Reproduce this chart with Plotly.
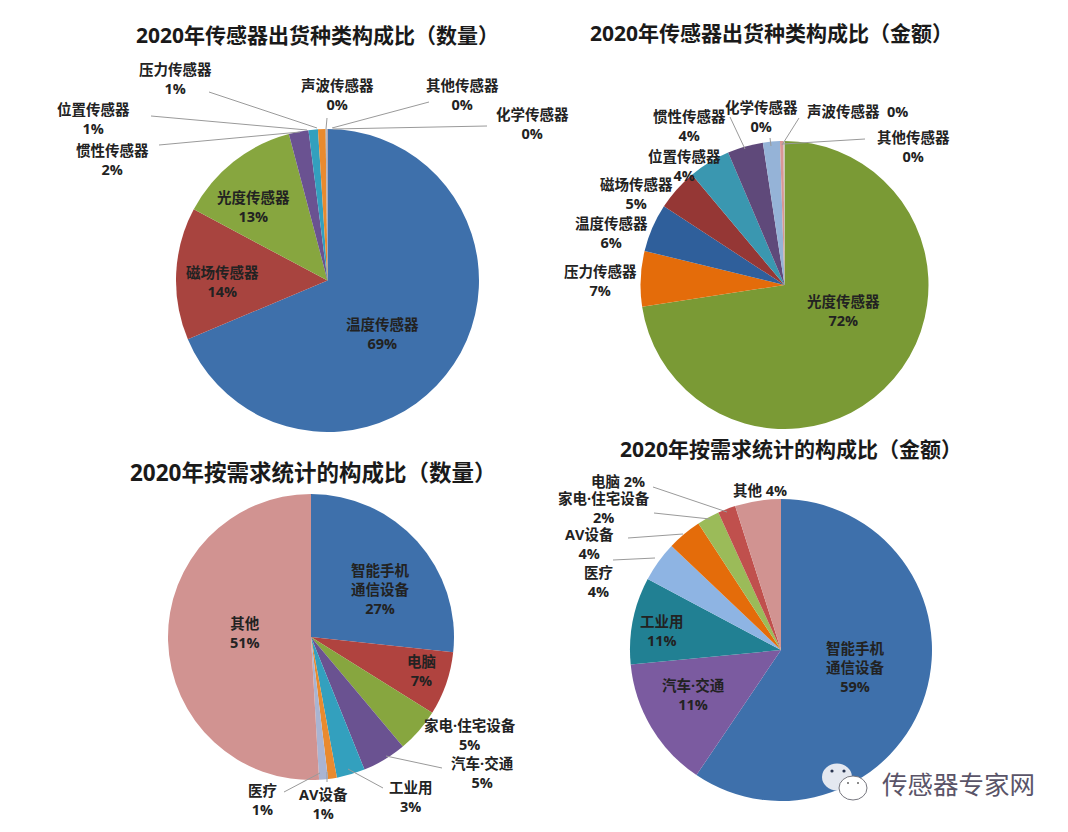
import plotly.graph_objects as go

W, H = 1068, 832
MARGIN = 8  # the page's own body margin
FONT = "Open Sans, Noto Sans CJK SC"

# ---------- data ----------
sensor_qty_names = ["温度传感器", "磁场传感器", "光度传感器", "惯性传感器", "位置传感器", "压力传感器", "声波传感器", "其他传感器", "化学传感器"]
sensor_qty_slices = [68.6, 14.1, 13.1, 2.1, 1.0, 0.8, 0.1, 0.05, 0.05]
sensor_qty_pct = [69, 14, 13, 2, 1, 1, 0, 0, 0]

sensor_amt_names = ["光度传感器", "压力传感器", "温度传感器", "磁场传感器", "位置传感器", "惯性传感器", "化学传感器", "声波传感器", "其他传感器"]
sensor_amt_slices = [72.6, 6.2, 5.4, 4.7, 4.7, 4.0, 1.9, 0.4, 0.1]
sensor_amt_pct = [72, 7, 6, 5, 4, 4, 0, 0, 0]

demand_qty_names = ["智能手机<br>通信设备", "电脑", "家电·住宅设备", "汽车·交通", "工业用", "AV设备", "医疗", "其他"]
demand_qty_slices = [26.7, 7.2, 5.0, 5.0, 3.2, 1.0, 1.0, 50.9]
demand_qty_pct = [27, 7, 5, 5, 3, 1, 1, 51]

demand_amt_names = ["智能手机<br>通信设备", "汽车·交通", "工业用", "医疗", "AV设备", "家电·住宅设备", "电脑", "其他"]
demand_amt_slices = [59.4, 14.0, 9.3, 4.3, 3.7, 2.4, 1.9, 4.9]
demand_amt_pct = [59, 11, 11, 4, 4, 2, 2, 4]

titles = ["2020年传感器出货种类构成比（数量）", "2020年传感器出货种类构成比（金额）",
          "2020年按需求统计的构成比（数量）", "2020年按需求统计的构成比（金额）"]
watermark = "传感器专家网"

# ---------- style / layout ----------
colors_1 = ["#3E70AB", "#A8443F", "#87A63F", "#6A5291", "#33A0BE", "#E98A2E", "#A9A9A9", "#8EA9CF", "#C98F8D"]
colors_2 = ["#7A9A35", "#E46C0A", "#2F5F9B", "#953735", "#3A97B0", "#5F497A", "#95B3D7", "#D99694", "#C9C9C9"]
colors_3 = ["#3E70AB", "#B0433F", "#87A63F", "#6A5291", "#33A0BE", "#E98A2E", "#A9B4D2", "#D19391"]
colors_4 = ["#3E70AB", "#7B5BA0", "#218093", "#8EB4E3", "#E46C0A", "#9BBB59", "#C0504D", "#D19391"]

pie_geom = [(327.5, 280.5, 151.5), (784.5, 285, 144), (311, 637, 143), (781, 650, 151)]
title_pos = [(317, 35), (771, 33), (313, 472), (791, 449)]
title_size = [21, 21, 22.5, 21]

label_pos_1 = [(382, 334), (222, 282), (253, 207), (112, 160), (93, 119), (175, 79), (337, 95), (462, 95), (532, 124)]
label_pos_2 = [(843, 311), (600, 281), (611, 233), (636, 194), (684, 166), (689, 126), (761, 117), (857, 111), (913, 147)]
label_pos_3 = [(380, 589), (421, 671), (470, 735), (482, 773), (411, 797), (323, 804), (262, 800), (245, 633)]
label_pos_4 = [(855, 667), (693, 695), (662, 631), (598, 582), (589, 544), (604, 508), (618, 481), (760, 490)]
inline_labels = {(1, 7): "  ", (3, 6): " ", (3, 7): " "}

leaders = [
    ((209, 92), (317, 128)), ((151, 116), (307, 130)), ((159, 145), (300, 132)),
    ((327, 118), (326, 129)), ((429, 102), (332, 128)), ((487, 126), (333, 129)),
    ((730, 117), (745, 149)), ((770, 138), (771, 146)), ((799, 118), (782, 145)), ((865, 139), (783, 144)),
    ((442, 768), (386, 756)), ((383, 788), (348, 769)), ((327, 782), (327, 772)), ((284, 792), (320, 773)),
    ((653, 487), (727, 512)), ((654, 513), (710, 519)), ((628, 538), (683, 534)), ((613, 560), (655, 558)),
]

FIG_W, FIG_H = W - 2 * MARGIN, H - 2 * MARGIN


def px(x):
    return (x - MARGIN) / FIG_W


def py(y):
    return 1 - (y - MARGIN) / FIG_H


def text(x, y, s, size=14.5, color="#222222", weight=700):
    return dict(x=px(x), y=py(y), xref="paper", yref="paper", text=s, showarrow=False,
                xanchor="center", yanchor="middle", align="center",
                font=dict(family=FONT, size=size, color=color, weight=weight))


fig = go.Figure()
charts = [
    (sensor_qty_names, sensor_qty_slices, sensor_qty_pct, colors_1, label_pos_1),
    (sensor_amt_names, sensor_amt_slices, sensor_amt_pct, colors_2, label_pos_2),
    (demand_qty_names, demand_qty_slices, demand_qty_pct, colors_3, label_pos_3),
    (demand_amt_names, demand_amt_slices, demand_amt_pct, colors_4, label_pos_4),
]
annotations = []
for i, (names, vals, pcts, cols, pos) in enumerate(charts):
    cx, cy, r = pie_geom[i]
    fig.add_trace(go.Pie(
        labels=names, values=vals, marker=dict(colors=cols, line=dict(width=0)),
        sort=False, direction="clockwise", rotation=0, textinfo="none", showlegend=False,
        domain=dict(x=[px(cx - r), px(cx + r)], y=[py(cy + r), py(cy - r)]),
    ))
    for j, (name, pct, (x, y)) in enumerate(zip(names, pcts, pos)):
        sep = inline_labels.get((i, j), "<br>")
        annotations.append(text(x, y, f"{name}{sep}{pct}%"))
    tx, ty = title_pos[i]
    annotations.append(text(tx, ty, titles[i], size=title_size[i], color="#1a1a1a", weight=700))

annotations.append(text(958, 784, watermark, size=25.5, color="#5A5468", weight=400))

shapes = [dict(type="line", xref="paper", yref="paper", x0=px(a[0]), y0=py(a[1]), x1=px(b[0]), y1=py(b[1]),
               line=dict(color="#9A9A9A", width=1)) for a, b in leaders]


def ellipse(cx, cy, rx, ry, fill, line="rgba(0,0,0,0)", width=0):
    return dict(type="circle", xref="paper", yref="paper", x0=px(cx - rx), x1=px(cx + rx),
                y0=py(cy + ry), y1=py(cy - ry), fillcolor=fill, line=dict(color=line, width=width))


# WeChat-style watermark icon
shapes += [
    ellipse(837, 777, 15, 13.5, "#E4E8F0"),
    ellipse(853, 788, 14, 12, "#FFFFFF", "#77777F", 1),
    ellipse(832, 771, 1.6, 1.6, "#2A3550"),
    ellipse(844, 771, 1.6, 1.6, "#2A3550"),
    ellipse(848, 783, 1, 1, "#666666"),
    ellipse(858, 783, 1, 1, "#666666"),
]

fig.update_layout(width=FIG_W, height=FIG_H, margin=dict(l=0, r=0, t=0, b=0), paper_bgcolor="white",
                  annotations=annotations, shapes=shapes, showlegend=False)
fig.write_html("out.html")
